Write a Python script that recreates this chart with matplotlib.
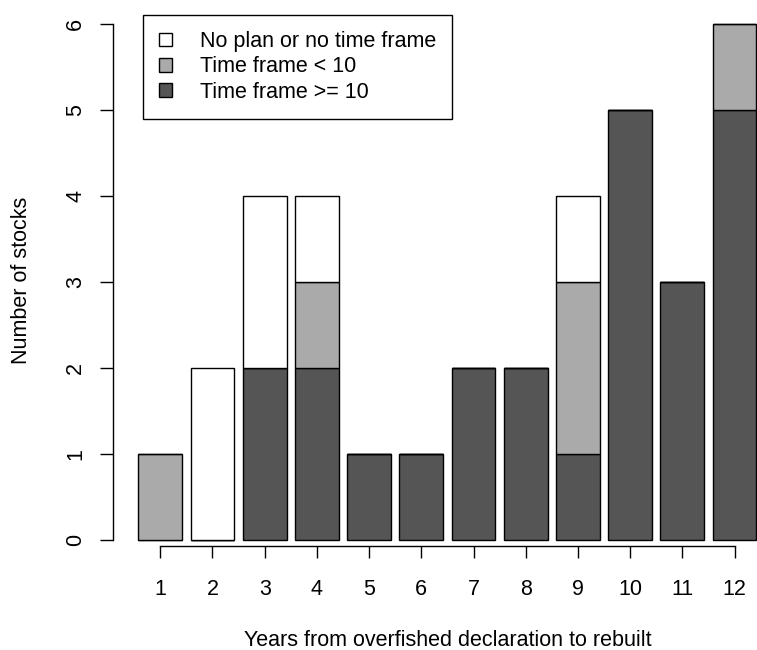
import numpy as np
import matplotlib.pyplot as plt
from matplotlib.patches import Patch

plt.rcParams['font.family'] = ['Liberation Sans', 'DejaVu Sans']

# 数据：每个年份的股票数量（按类别堆叠）
years = list(range(1, 13))
tf_ge10 = [0, 0, 2, 2, 1, 1, 2, 2, 1, 5, 3, 5]   # Time frame >= 10
tf_lt10 = [1, 0, 0, 1, 0, 0, 0, 0, 2, 0, 0, 1]   # Time frame < 10
no_plan = [0, 2, 2, 1, 0, 0, 0, 0, 1, 0, 0, 0]   # No plan or no time frame
labels = ['No plan or no time frame', 'Time frame < 10', 'Time frame >= 10']
colors = ['#FFFFFF', '#AAAAAA', '#555555']

fs = 15.5
fig = plt.figure(figsize=(7.57, 6.5), dpi=100)
ax = fig.add_axes([113 / 757, 1 - 546 / 650, 0.8835, (546 - 14) / 650])

x = np.array(years)
w = 0.84
b1 = np.array(tf_ge10)
b2 = b1 + np.array(tf_lt10)
ax.bar(x, tf_ge10, width=w, color=colors[2], edgecolor='black', linewidth=1.0)
ax.bar(x, tf_lt10, width=w, bottom=b1, color=colors[1], edgecolor='black', linewidth=1.0)
ax.bar(x, no_plan, width=w, bottom=b2, color=colors[0], edgecolor='black', linewidth=1.0)

ax.set_xlim(0.094, 12.906)
ax.set_ylim(-0.07, 6.116)

for s in ['top', 'right']:
    ax.spines[s].set_visible(False)
ax.spines['left'].set_bounds(0, 6)
ax.spines['bottom'].set_bounds(1, 12)
ax.spines['left'].set_linewidth(1.0)
ax.spines['bottom'].set_linewidth(1.0)

ax.set_xticks(years)
ax.set_yticks(range(0, 7))
ax.tick_params(axis='x', length=8.5, width=1.0, pad=15, labelsize=fs)
ax.tick_params(axis='y', length=9.4, width=1.0, pad=10, labelsize=fs, labelrotation=90)
for t in ax.get_yticklabels():
    t.set_va('center')

fig.text(22 / 757, 1 - 280 / 650, 'Number of stocks', rotation=90,
         ha='center', va='center', fontsize=fs)
fig.text(448 / 757, 1 - 640 / 650, 'Years from overfished declaration to rebuilt',
         ha='center', va='center', fontsize=fs)

handles = [Patch(facecolor=c, edgecolor='black', linewidth=1.0) for c in colors]
leg = ax.legend(handles, labels, loc='upper left',
                bbox_to_anchor=(143 / 757, 1 - 15 / 650), bbox_transform=fig.transFigure,
                borderaxespad=0, fancybox=False, framealpha=1, edgecolor='black',
                fontsize=fs, handlelength=0.6, handleheight=0.6, handletextpad=1.3,
                labelspacing=0.2, borderpad=0.75)
leg.get_frame().set_linewidth(1.0)

fig.savefig('out.png', dpi=100)
